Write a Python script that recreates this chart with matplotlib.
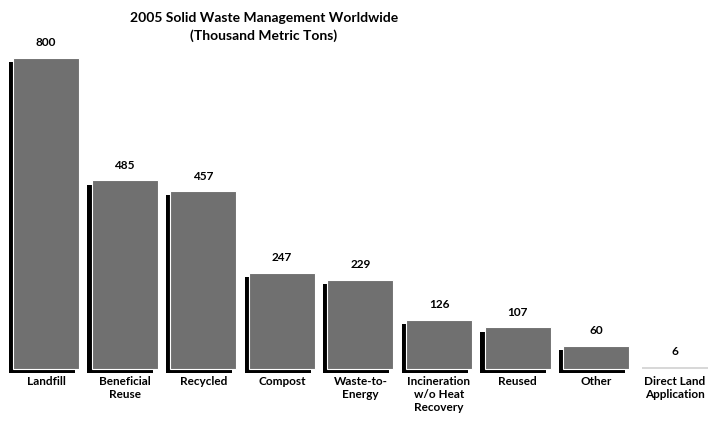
import matplotlib
matplotlib.use("Agg")
import matplotlib.pyplot as plt
import matplotlib.patheffects as pe

categories = ["Landfill", "Beneficial\nReuse", "Recycled", "Compost", "Waste-to-\nEnergy",
              "Incineration\nw/o Heat\nRecovery", "Reused", "Other", "Direct Land\nApplication"]
values = [800, 485, 457, 247, 229, 126, 107, 60, 6]
value_labels = ["800", "485", "457", "247", "229", "126", "107", "60", "6"]

plt.rcParams['font.family'] = ['Lato', 'DejaVu Sans']

fig = plt.figure(figsize=(7.09, 4.25), dpi=100)
ax = fig.add_axes([0, (425 - 369) / 425, 1, 369 / 425])
x = list(range(len(categories)))
bars = ax.bar(x, values, width=0.84, color="#707070", edgecolor="white", linewidth=0.8)
for b, v in zip(bars, values):
    b.set_clip_on(False)
    if v > 20:
        b.set_path_effects([pe.SimplePatchShadow(offset=(-3, -3), shadow_rgbFace="black", alpha=1.0),
                            pe.Normal()])
    else:
        b.set_linewidth(0)
        b.set_facecolor("#d8d8d8")

for xi, v, lab in zip(x, values, value_labels):
    ax.annotate(lab, (xi, v), xytext=(0, 7), textcoords="offset points",
                ha="center", va="bottom", fontsize=8.5, fontweight="bold")
for xi, c in zip(x, categories):
    ax.annotate(c, (xi, 0), xytext=(0, -5), textcoords="offset points",
                ha="center", va="top", fontsize=8.5, fontweight="bold", linespacing=1.2)

ax.set_xlim(-46 / 78.6, (709 - 46) / 78.6)
ax.set_ylim(0, 369 / 0.389)
ax.axis("off")

fig.text(264 / 709, 1 - 27 / 425, "2005 Solid Waste Management Worldwide\n(Thousand Metric Tons)",
         ha="center", va="center", fontsize=10, fontweight="bold", linespacing=1.55)

fig.savefig("out.png", dpi=100)
